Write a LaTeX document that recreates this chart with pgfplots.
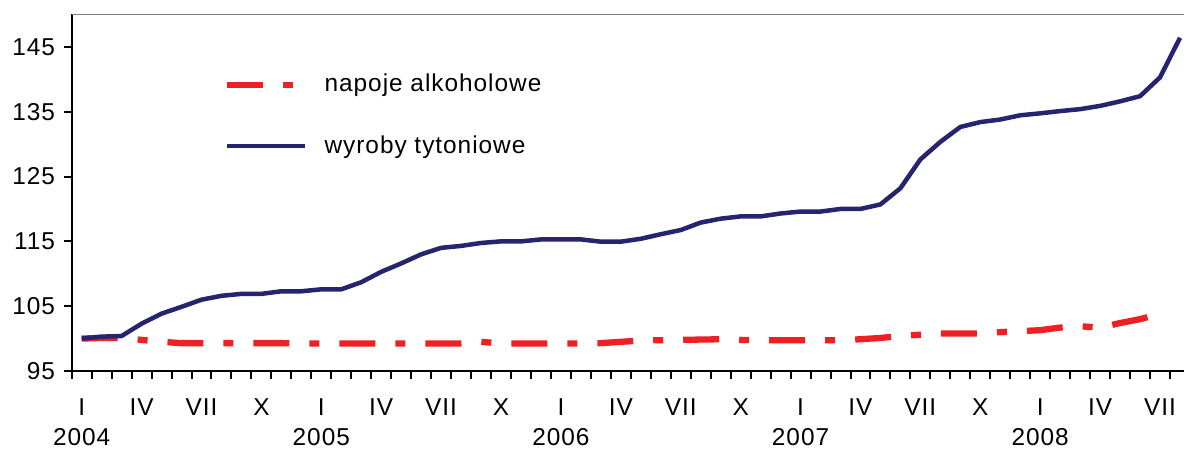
\documentclass[border=0pt]{standalone}
\usepackage{fontspec}
\setmainfont{Liberation Sans}[LetterSpace=4]
\usepackage{pgfplots}
\pgfplotsset{compat=1.18}

\definecolor{lineblue}{RGB}{38,36,110}
\definecolor{linered}{RGB}{237,32,36}
\newcommand{\chartfont}{\fontsize{24.5}{30}\selectfont}

% monthly index, Jan 2004 = 0
\pgfplotstableread{
x y
0 100.0
1 100.1
2 100.1
3 99.8
4 99.5
5 99.3
6 99.3
7 99.3
8 99.3
9 99.3
10 99.3
11 99.25
12 99.25
13 99.25
14 99.25
15 99.25
16 99.25
17 99.25
18 99.25
19 99.25
20 99.5
21 99.25
22 99.25
23 99.25
24 99.25
25 99.25
26 99.3
27 99.5
28 99.7
29 99.75
30 99.8
31 99.85
32 99.9
33 99.8
34 99.75
35 99.75
36 99.75
37 99.75
38 99.75
39 99.9
40 100.1
41 100.4
42 100.6
43 100.8
44 100.8
45 100.8
46 101.0
47 101.15
48 101.3
49 101.7
50 101.9
51 101.7
52 102.4
53 103.0
54 103.8
}\alcohol

\pgfplotstableread{
x y
0 100.0
1 100.3
2 100.4
3 102.3
4 103.85
5 104.9
6 106.0
7 106.6
8 106.9
9 106.9
10 107.3
11 107.3
12 107.6
13 107.6
14 108.7
15 110.3
16 111.6
17 113.0
18 114.0
19 114.3
20 114.75
21 115.0
22 115.0
23 115.3
24 115.3
25 115.3
26 114.95
27 114.95
28 115.4
29 116.1
30 116.75
31 117.9
32 118.5
33 118.85
34 118.85
35 119.3
36 119.6
37 119.6
38 120.0
39 120.0
40 120.7
41 123.2
42 127.65
43 130.35
44 132.65
45 133.4
46 133.8
47 134.45
48 134.75
49 135.1
50 135.4
51 135.9
52 136.6
53 137.4
54 140.3
55 146.4
}\tobacco

\begin{document}
\chartfont
\begin{tikzpicture}
\useasboundingbox (0,0) rectangle (1184bp,450bp);
\begin{axis}[
  at={(71.7bp,79bp)}, anchor=south west,
  width=1112.3bp, height=356.5bp, scale only axis,
  xmin=-0.5, xmax=55.2, ymin=95, ymax=150,
  clip=false,
  axis x line*=bottom, axis y line*=left,
  axis line style={line width=2.2bp, black, -},
  tick align=outside,
  major tick length=7.5bp,
  tick style={line width=2bp, black},
  ytick={95,105,...,145},
  yticklabel style={font=\chartfont, anchor=east, inner sep=0pt, xshift=-9bp},
  /pgf/number format/assume math mode=true,
  xtick={-0.5,0.5,...,55.5},
  xticklabels={},
  extra x ticks={0,3,...,54},
  extra x tick labels={{I\\2004},IV,VII,X,{I\\2005},IV,VII,X,{I\\2006},IV,VII,X,{I\\2007},IV,VII,X,{I\\2008},IV,VII},
  extra x tick style={tick style={draw=none}},
  xticklabel style={font=\chartfont, align=center, anchor=north, inner sep=0pt, yshift=-20bp},
  legend style={at={(axis description cs:0.137,0.7167)}, anchor=west,
    draw=none, fill=none, inner sep=0pt, font=\chartfont,
    row sep=40bp, nodes={inner sep=0pt}},
  legend cell align=left,
  legend image code/.code={\draw[#1] (0bp,0bp) -- (78bp,0bp); \path (94bp,0bp);},
]
\addplot[draw=linered, line width=6.3bp, dash pattern=on 36bp off 20bp on 10bp off 20bp] table {\alcohol};
\addlegendentry{napoje alkoholowe}
\addplot[draw=lineblue, line width=4.5bp, line join=round] table {\tobacco};
\addlegendentry{wyroby tytoniowe}
\draw[color=black!50, line width=1.6bp] (rel axis cs:0,1) -- (rel axis cs:1,1);
\end{axis}
\end{tikzpicture}
\end{document}
